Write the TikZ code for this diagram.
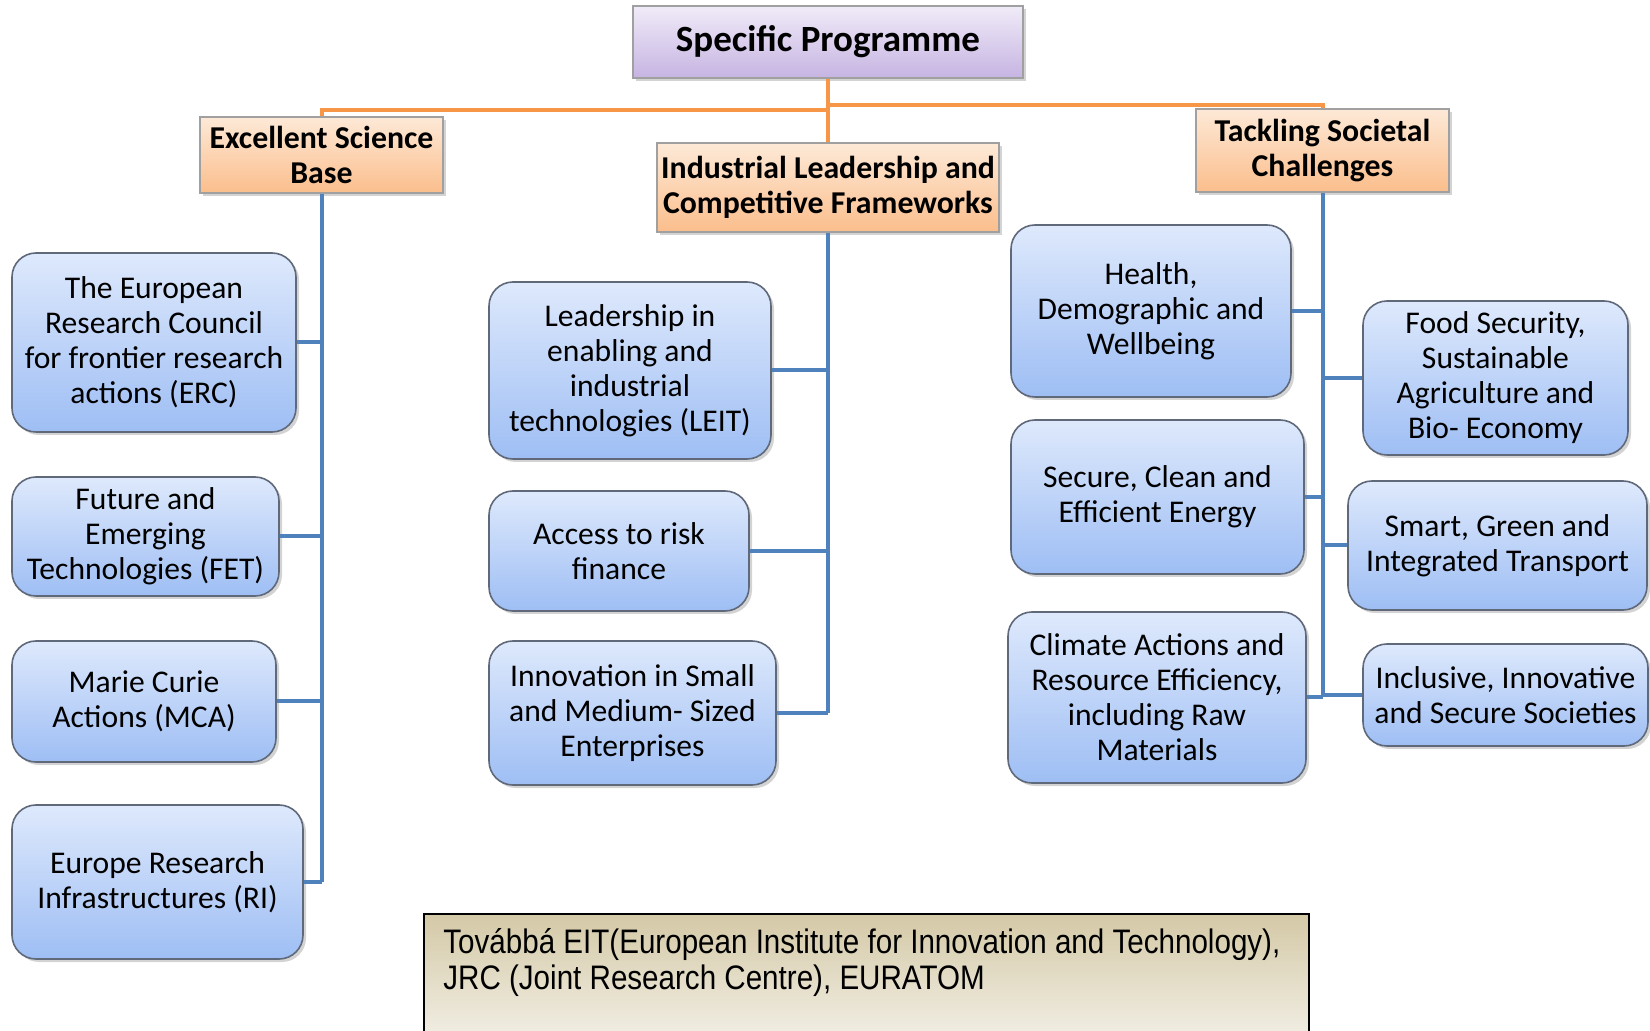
\documentclass[tikz,border=0pt]{standalone}
\usepackage{fontspec}
\setmainfont{Carlito}
\newfontfamily\notefont[FakeStretch=0.87]{Liberation Sans}
\usetikzlibrary{shadows}

\definecolor{boxtop}{RGB}{222,233,252}
\definecolor{boxbottom}{RGB}{158,190,244}
\definecolor{boxline}{RGB}{95,105,122}
\definecolor{headtop}{RGB}{253,233,215}
\definecolor{headbottom}{RGB}{251,190,140}
\definecolor{progtop}{RGB}{240,235,248}
\definecolor{progbottom}{RGB}{198,180,226}
\definecolor{greyline}{RGB}{160,160,160}
\definecolor{blueline}{RGB}{79,129,189}
\definecolor{orangeline}{RGB}{247,150,70}
\definecolor{notetop}{RGB}{212,201,166}
\definecolor{notebottom}{RGB}{243,240,232}

\begin{document}
\begin{tikzpicture}[x=0.5pt, y=-0.5pt,
    prog/.style={draw=greyline, thick, top color=progtop, bottom color=progbottom,
        drop shadow={opacity=0.35, shadow xshift=1.5pt, shadow yshift=-1.5pt},
        font=\fontsize{18.5}{20}\selectfont\bfseries, align=center, inner sep=0pt},
    head/.style={draw=greyline, thick, top color=headtop, bottom color=headbottom,
        drop shadow={opacity=0.35, shadow xshift=1.5pt, shadow yshift=-1.5pt},
        font=\fontsize{15.9}{17.5}\selectfont\bfseries, align=center, inner sep=0pt},
    item/.style={draw=boxline, thick, rounded corners=12pt, top color=boxtop, bottom color=boxbottom,
        drop shadow={opacity=0.35, shadow xshift=1.5pt, shadow yshift=-1.5pt},
        font=\fontsize{15.8}{17.5}\selectfont, align=center, inner sep=0pt},
    branch/.style={draw=blueline, line width=2pt},
    trunk/.style={draw=orangeline, line width=2pt}]

    \useasboundingbox (0,0) rectangle (1650,1031);

    % The programme and its three pillars
    \node[prog, minimum width=195pt, minimum height=36pt] (sp) at (828,42) {Specific Programme};
    \node[head, minimum width=121.5pt, minimum height=38pt] (esb) at (321.5,155) {Excellent Science\\Base};
    \node[head, minimum width=171pt, minimum height=44.5pt] (ilc) at (828,187.5) {Industrial Leadership and\\Competitive Frameworks};
    \node[head, minimum width=126.5pt, minimum height=41.5pt] (tsc) at (1322.5,150.5) {Tackling Societal\\Challenges};

    % Orange joins
    \coordinate (jl) at (828,110);
    \coordinate (jr) at (828,105);
    \draw[trunk] (sp.south) -- (ilc.north);
    \draw[trunk] (esb.north) |- (jl);
    \draw[trunk] (tsc.north) |- (jr);

    % Excellent science
    \node[item, minimum width=142pt, minimum height=89.5pt] (erc) at (154,342.5) {The European\\Research Council\\for frontier research\\actions (ERC)};
    \node[item, minimum width=133.5pt, minimum height=59.5pt] (fet) at (145.5,536.5) {Future and\\Emerging\\Technologies (FET)};
    \node[item, minimum width=132pt, minimum height=60.5pt] (mca) at (144,701.5) {Marie Curie\\Actions (MCA)};
    \node[item, minimum width=145.5pt, minimum height=77pt] (ri) at (157.5,882) {Europe Research\\Infrastructures (RI)};

    % Industrial leadership
    \node[item, minimum width=141pt, minimum height=88.5pt] (leit) at (630,370.5) {Leadership in\\enabling and\\industrial\\technologies (LEIT)};
    \node[item, minimum width=130pt, minimum height=60pt] (arf) at (619,551) {Access to risk\\finance};
    \node[item, minimum width=143.5pt, minimum height=72pt] (ism) at (632.5,713) {Innovation in Small\\and Medium- Sized\\Enterprises};

    % Societal challenges, left column
    \node[item, minimum width=140pt, minimum height=86pt] (hdw) at (1151,311) {Health,\\Demographic and\\Wellbeing};
    \node[item, minimum width=146.5pt, minimum height=77pt] (sce) at (1157.5,497) {Secure, Clean and\\Efficient Energy};
    \node[item, minimum width=149pt, minimum height=85.5pt] (car) at (1157,697.5) {Climate Actions and\\Resource Efficiency,\\including Raw\\Materials};

    % Societal challenges, right column
    \node[item, minimum width=132.5pt, minimum height=77pt] (fss) at (1495.5,378) {Food Security,\\Sustainable\\Agriculture and\\Bio- Economy};
    \node[item, minimum width=149.5pt, minimum height=64.5pt] (sgt) at (1497.5,545.5) {Smart, Green and\\Integrated Transport};
    \node[item, minimum width=142.5pt, minimum height=51pt] (iis) at (1505.5,695) {Inclusive, Innovative\\and Secure Societies};

    % Blue joins
    \draw[branch] (esb.south) -- (esb.south |- ri.east);
    \foreach \n in {erc, fet, mca, ri}
        \draw[branch] (\n.east) -- (\n.east -| esb.south);
    \draw[branch] (ilc.south) -- (ilc.south |- ism.east);
    \foreach \n in {leit, arf, ism}
        \draw[branch] (\n.east) -- (\n.east -| ilc.south);
    \draw[branch] (tsc.south) -- (tsc.south |- car.east);
    \foreach \n in {hdw, sce, car}
        \draw[branch] (\n.east) -- (\n.east -| tsc.south);
    \foreach \n in {fss, sgt, iis}
        \draw[branch] (\n.west) -- (\n.west -| tsc.south);

    % The note at the bottom
    \shade[top color=notetop, bottom color=notebottom] (424,914) rectangle (1309,1045);
    \draw[thick] (424,1045) -- (424,914) -- (1309,914) -- (1309,1045);
    \node[anchor=north west, inner sep=0pt, align=left, font=\notefont\fontsize{17}{18}\selectfont] (note) at (443,928)
        {Továbbá EIT(European Institute for Innovation and Technology),\\JRC (Joint Research Centre), EURATOM};
\end{tikzpicture}
\end{document}
